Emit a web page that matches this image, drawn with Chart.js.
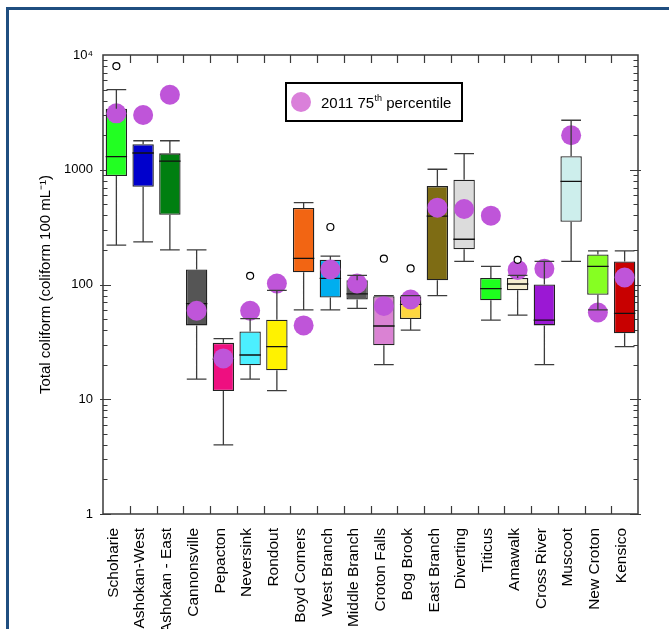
<!DOCTYPE html>
<html>
<head>
<meta charset="utf-8">
<script src="https://cdn.jsdelivr.net/npm/chart.js@4.4.0/dist/chart.umd.min.js"></script>
<style>
  html, body { margin: 0; padding: 0; background: #fff; }
  #wrap { position: relative; width: 669px; height: 629px; overflow: hidden; }
  #frame { position: absolute; left: 6px; top: 7px; right: -10px; bottom: -10px;
           border-top: 3px solid #1f4e80; border-left: 3px solid #1f4e80; }
  canvas { position: absolute; left: 0; top: 0; }
</style>
</head>
<body>
<div id="wrap">
  <div id="frame"></div>
  <canvas id="boxChart" width="669" height="629"></canvas>
</div>
<script>
// Reservoir sites (x categories)
const sites = ['Schoharie', 'Ashokan-West', 'Ashokan - East', 'Cannonsville', 'Pepacton',
  'Neversink', 'Rondout', 'Boyd Corners', 'West Branch', 'Middle Branch', 'Croton Falls',
  'Bog Brook', 'East Branch', 'Diverting', 'Titicus', 'Amawalk', 'Cross River', 'Muscoot',
  'New Croton', 'Kensico'];

// Box plot statistics (coliform 100 mL-1)
const whiskerLow  = [220, 235, 200, 15, 4, 15, 11.9, 60, 60, 62, 20, 40, 80, 159, 49, 54, 20, 159, 60, 28.7];
const q1          = [880, 710, 405, 44, 11.8, 19.8, 17.9, 128, 77, 74, 29.5, 50, 109, 203, 73, 89, 44, 352, 81.5, 37.6];
const median      = [1300, 1400, 1190, 68, 22.4, 24.3, 28.7, 169, 113, 83, 43.5, 67, 395, 248, 92, 101, 49, 793, 144, 56];
const q3          = [3400, 1670, 1390, 135, 31, 39, 49.3, 465, 164, 109, 79, 79, 720, 820, 114, 114, 100, 1310, 183, 159];
const whiskerHigh = [5000, 1790, 1790, 200, 33.7, 50.4, 89, 516, 177, 120, 80, 80, 1010, 1380, 144, 120, 159, 2700, 196, 196];

// 2011 75th percentile
const p75of2011 = [3100, 3000, 4500, 59, 22.7, 59, 102, 44, 135, 102, 65, 74, 467, 455, 398, 134, 137, 2000, 57, 115];

// Outliers
const outlierSites  = ['Schoharie', 'Neversink', 'West Branch', 'Croton Falls', 'Bog Brook', 'Amawalk'];
const outlierValues = [8000, 119, 317, 168, 138, 164];

const boxColors = ['#22ff22', '#0000cc', '#007f10', '#555555', '#ee0f80', '#4cefff', '#fff200',
  '#f26513', '#00aeef', '#5a5a5a', '#da82d3', '#ffd740', '#7e6c14', '#dcdcdc', '#1eff1e',
  '#f5eed0', '#9b18d4', '#cdeeec', '#86ff22', '#c80000'];

const yTicks = [1, 10, 100, 1000, 10000];

const FONT = "'Liberation Sans', Arial, sans-serif";
Chart.defaults.font.family = FONT;
Chart.defaults.color = '#000';

// whiskers, medians, frame ticks and the legend box
const boxParts = {
  id: 'boxParts',
  beforeDatasetsDraw(chart) {
    const { ctx, chartArea: a, scales: { x, y } } = chart;
    ctx.save();
    ctx.strokeStyle = '#3a3a3a';
    ctx.lineWidth = 1.5;
    ctx.strokeRect(a.left, a.top, a.right - a.left, a.bottom - a.top);
    ctx.lineWidth = 1.2;
    ctx.beginPath();
    for (let i = 1; i < sites.length; i++) {
      const px = Math.round(x.getPixelForValue(i - 0.5)) + 0.5;
      ctx.moveTo(px, a.top); ctx.lineTo(px, a.top + 8);
      ctx.moveTo(px, a.bottom); ctx.lineTo(px, a.bottom - 8);
    }
    for (let d = 1; d < 10000; d *= 10) {
      for (let m = 1; m <= 9; m++) {
        const py = Math.round(y.getPixelForValue(d * m)) + 0.5;
        const len = m === 1 ? 8 : 4.5;
        ctx.moveTo(a.left - (m === 1 ? 3 : 0), py); ctx.lineTo(a.left + len, py);
        ctx.moveTo(a.right + (m === 1 ? 3 : 0), py); ctx.lineTo(a.right - len, py);
      }
    }
    ctx.stroke();
    ctx.restore();
  },
  afterDatasetDraw(chart, args) {
    const { ctx, scales: { y } } = chart;
    const boxes = chart.getDatasetMeta(0).data;
    ctx.save();
    if (args.index === 0) {
      ctx.strokeStyle = '#111';
      ctx.lineWidth = 1.3;
      ctx.beginPath();
      boxes.forEach((el, i) => {
        const py = y.getPixelForValue(median[i]);
        ctx.moveTo(el.x - el.width / 2, py); ctx.lineTo(el.x + el.width / 2, py);
      });
      ctx.stroke();
    }
    if (args.index === 1) {
      ctx.strokeStyle = '#3c3c3c';
      ctx.lineWidth = 1.3;
      ctx.beginPath();
      boxes.forEach((el, i) => {
        const cap = el.width * 0.46;
        const hi = y.getPixelForValue(whiskerHigh[i]);
        const lo = y.getPixelForValue(whiskerLow[i]);
        ctx.moveTo(el.x, y.getPixelForValue(q3[i])); ctx.lineTo(el.x, hi);
        ctx.moveTo(el.x, y.getPixelForValue(q1[i])); ctx.lineTo(el.x, lo);
        ctx.moveTo(el.x - cap, hi); ctx.lineTo(el.x + cap, hi);
        ctx.moveTo(el.x - cap, lo); ctx.lineTo(el.x + cap, lo);
      });
      ctx.stroke();
    }
    ctx.restore();
  },
  afterDraw(chart) {
    const { ctx, chartArea: a } = chart;
    const lx = a.left + 183, ly = a.top + 28;
    ctx.save();
    ctx.fillStyle = '#fff';
    ctx.fillRect(lx, ly, 176, 38);
    ctx.strokeStyle = '#000';
    ctx.lineWidth = 2;
    ctx.strokeRect(lx, ly, 176, 38);
    ctx.fillStyle = '#da80da';
    ctx.beginPath();
    ctx.arc(lx + 15, ly + 19, 10, 0, Math.PI * 2);
    ctx.fill();
    ctx.fillStyle = '#000';
    ctx.textBaseline = 'alphabetic';
    ctx.font = '15px ' + FONT;
    let tx = lx + 35;
    const base = ly + 25;
    ctx.fillText('2011 75', tx, base);
    tx += ctx.measureText('2011 75').width;
    ctx.font = '9px ' + FONT;
    ctx.fillText('th', tx + 0.5, base - 7);
    tx += ctx.measureText('th').width + 0.5;
    ctx.font = '15px ' + FONT;
    ctx.fillText(' percentile', tx, base);
    ctx.restore();
  }
};

new Chart(document.getElementById('boxChart'), {
  data: {
    labels: sites,
    datasets: [
      {
        type: 'bar',
        label: 'Box',
        data: sites.map((_, i) => [q1[i], q3[i]]),
        backgroundColor: boxColors,
        borderColor: '#222',
        borderWidth: 1.3,
        borderSkipped: false,
        barPercentage: 0.8,
        categoryPercentage: 1,
        order: 3
      },
      {
        type: 'line',
        label: '2011 75th percentile',
        data: p75of2011,
        showLine: false,
        pointRadius: 10,
        pointBackgroundColor: '#bf55d9',
        pointBorderWidth: 0,
        order: 2
      },
      {
        type: 'line',
        label: 'Outliers',
        data: outlierSites.map((s, i) => ({ x: s, y: outlierValues[i] })),
        showLine: false,
        pointRadius: 3.5,
        pointBackgroundColor: '#fff',
        pointBorderColor: '#000',
        pointBorderWidth: 1.2,
        order: 1
      }
    ]
  },
  options: {
    responsive: false,
    animation: false,
    layout: { padding: { top: 55, right: 31, left: 0, bottom: 0 } },
    plugins: {
      legend: { display: false },
      tooltip: { enabled: false }
    },
    scales: {
      x: {
        type: 'category',
        offset: true,
        grid: { display: false, drawTicks: false },
        border: { display: false },
        ticks: { minRotation: 90, maxRotation: 90, autoSkip: false, font: { size: 15.5 }, padding: 14, labelOffset: -3 },
        afterFit: s => { s.height = 115; }
      },
      y: {
        type: 'logarithmic',
        min: 1,
        max: 10000,
        grid: { display: false, drawTicks: false },
        border: { display: false },
        afterBuildTicks: s => { s.ticks = yTicks.map(v => ({ value: v })); },
        ticks: { font: { size: 13 }, padding: 10, callback: v => (v === 10000 ? '10\u2074' : String(v)) },
        title: {
          display: true,
          text: 'Total coliform (coliform 100 mL\u207B\u00B9)',
          font: { size: 15 },
          padding: { top: 37, bottom: 0 }
        },
        afterFit: s => { s.width = 103; }
      }
    }
  },
  plugins: [boxParts]
});
</script>
</body>
</html>
